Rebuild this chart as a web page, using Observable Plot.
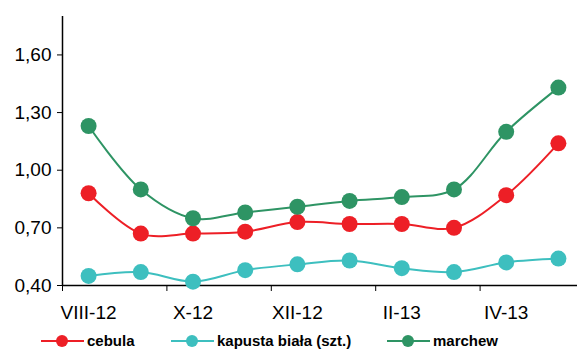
<!DOCTYPE html>
<html>
<head>
<meta charset="utf-8">
<script src="https://cdn.jsdelivr.net/npm/d3@7"></script>
<script src="https://cdn.jsdelivr.net/npm/@observablehq/plot@0.6"></script>
<style>
  html, body { margin: 0; padding: 0; background: #fff; overflow: hidden; }
  #wrap { position: relative; width: 577px; height: 349px; overflow: hidden; }
  #legend { position: absolute; left: 0; top: 330px; }
</style>
</head>
<body>
<div id="wrap"><div id="chart"></div><div id="legend"></div></div>
<script>
const months = ["VIII-12","IX-12","X-12","XI-12","XII-12","I-13","II-13","III-13","IV-13","V-13"];
const cebula  = [0.88,0.67,0.67,0.68,0.73,0.72,0.72,0.70,0.87,1.14];
const kapusta = [0.45,0.47,0.42,0.48,0.51,0.53,0.49,0.47,0.52,0.54];
const marchew = [1.23,0.90,0.75,0.78,0.81,0.84,0.86,0.90,1.20,1.43];
const seriesNames = ["cebula","kapusta biała (szt.)","marchew"];
const seriesColors = ["#ed1f26","#3dbfbf","#2e9464"];
const yTicks = [0.40,0.70,1.00,1.30,1.60];
const labelIdx = [0,2,4,6,8];
const boundaryTicks = [-0.5,1.5,3.5,5.5,7.5,9.5];

const allSeries = [cebula, kapusta, marchew];
const data = [];
allSeries.forEach((vals, s) => vals.forEach((v, i) => data.push({i, v, s: seriesNames[s]})));

const font = "'Liberation Sans', Arial, sans-serif";
const chart = Plot.plot({
  width: 577,
  height: 330,
  marginTop: 16,
  marginBottom: 45,
  marginLeft: 62,
  marginRight: 0,
  style: {fontFamily: font, fontSize: "19px", color: "#000", background: "#fff", overflow: "hidden"},
  x: {type: "linear", domain: [-0.5, 9.5], range: [62, 584]},
  y: {domain: [0.4, 1.8]},
  color: {domain: seriesNames, range: seriesColors},
  marks: [
    Plot.ruleY([0.4], {stroke: "#000", strokeWidth: 1.5}),
    Plot.ruleX([-0.5], {stroke: "#000", strokeWidth: 1.5}),
    Plot.axisY({ticks: yTicks, tickSize: 5, tickPadding: 6, tickFormat: d => d.toFixed(2).replace(".", ","), label: null, stroke: "#000", fontSize: 19}),
    Plot.axisX({ticks: boundaryTicks, tickSize: 6, tickFormat: () => "", label: null, stroke: "#000"}),
    Plot.axisX({ticks: labelIdx, tickSize: 0, tickPadding: 20, tickFormat: i => months[i], label: null, fontSize: 19}),
    Plot.line(data, {x: "i", y: "v", z: "s", stroke: "s", strokeWidth: 2, curve: "catmull-rom"}),
    Plot.dot(data, {x: "i", y: "v", fill: "s", r: 8})
  ]
});
document.getElementById("chart").appendChild(chart);

// legend
const lx = [41, 171, 387];
const leg = d3.select("#legend").append("svg").attr("width", 577).attr("height", 19)
  .style("display", "block").style("font-family", font);
seriesNames.forEach((n, k) => {
  const g = leg.append("g").attr("transform", `translate(${lx[k]},0)`);
  g.append("line").attr("x1", 0).attr("x2", 43).attr("y1", 11).attr("y2", 11)
    .attr("stroke", seriesColors[k]).attr("stroke-width", 2);
  g.append("circle").attr("cx", 21).attr("cy", 11).attr("r", 6).attr("fill", seriesColors[k]);
  g.append("text").attr("x", 46).attr("y", 15.5).attr("font-size", 15).attr("font-weight", "bold").text(n);
});
</script>
</body>
</html>
